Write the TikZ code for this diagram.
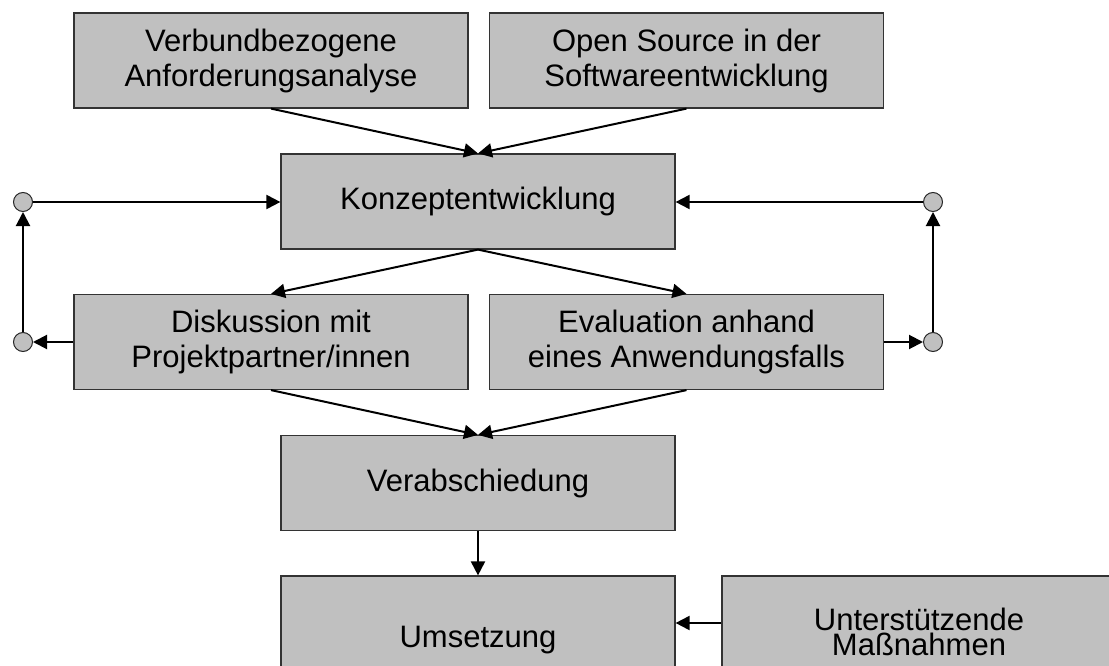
\documentclass[tikz,border=0pt]{standalone}
\usepackage{fontspec}
\setmainfont{Liberation Sans}
\definecolor{boxgray}{RGB}{192,192,192}
\usetikzlibrary{arrows.meta,calc}

\begin{document}
\begin{tikzpicture}[x=1pt,y=-1pt,
    stepbox/.style={draw=black!80, line width=1.2pt, fill=boxgray,
        minimum width=394pt, minimum height=95pt, inner sep=0pt,
        align=center, font=\fontsize{31}{35}\selectfont},
    joint/.style={circle, draw=black!85, line width=1pt, fill=boxgray,
        minimum size=19pt, inner sep=0pt},
    flow/.style={line width=2pt, -{Triangle[length=14pt,width=14pt]}}]
    \useasboundingbox (0,0) rectangle (1109,666);
    \clip (0,0) rectangle (1109,666);

    % Inputs
    \node[stepbox] (anforderung) at (271,60.5) {Verbundbezogene\\Anforderungsanalyse};
    \node[stepbox] (opensource) at (686.5,60.5) {Open Source in der\\Softwareentwicklung};

    % Concept and feedback
    \node[stepbox] (konzept) at (478,201.5) {Konzeptentwicklung};
    \node[stepbox] (diskussion) at (271,342) {Diskussion mit\\Projektpartner/innen};
    \node[stepbox] (evaluation) at (686.5,342) {Evaluation anhand\\eines Anwendungsfalls};

    % Decision and realisation
    \node[stepbox] (verabschiedung) at (478,483) {Verabschiedung};
    \node[stepbox, minimum height=128pt] (umsetzung) at (478,640) {Umsetzung};
    \node[stepbox, minimum height=112pt, font=\fontsize{31}{25}\selectfont] (massnahmen) at (919,632) {Unterst\"utzende\\Ma\ss nahmen};

    % Loop joints
    \node[joint] (linksunten) at (23,342) {};
    \node[joint] (linksoben) at (23,202) {};
    \node[joint] (rechtsunten) at (933,342) {};
    \node[joint] (rechtsoben) at (933,202) {};

    % Arrows
    \draw[flow] (anforderung.south) -- (konzept.north);
    \draw[flow] (opensource.south) -- (konzept.north);
    \draw[flow] (konzept.south) -- (diskussion.north);
    \draw[flow] (konzept.south) -- (evaluation.north);
    \draw[flow] (diskussion.south) -- (verabschiedung.north);
    \draw[flow] (evaluation.south) -- (verabschiedung.north);
    \draw[flow] (verabschiedung.south) -- (umsetzung.north);
    \coordinate (hilfe) at ([yshift=9pt]massnahmen.west);
    \draw[flow] (hilfe) -- (umsetzung.east |- hilfe);

    \draw[flow] (diskussion.west) -- (linksunten);
    \draw[flow] (linksunten) -- (linksoben);
    \draw[flow] (linksoben) -- (konzept.west |- linksoben);
    \draw[flow] (evaluation.east) -- (rechtsunten);
    \draw[flow] (rechtsunten) -- (rechtsoben);
    \draw[flow] (rechtsoben) -- (konzept.east |- rechtsoben);
\end{tikzpicture}
\end{document}
